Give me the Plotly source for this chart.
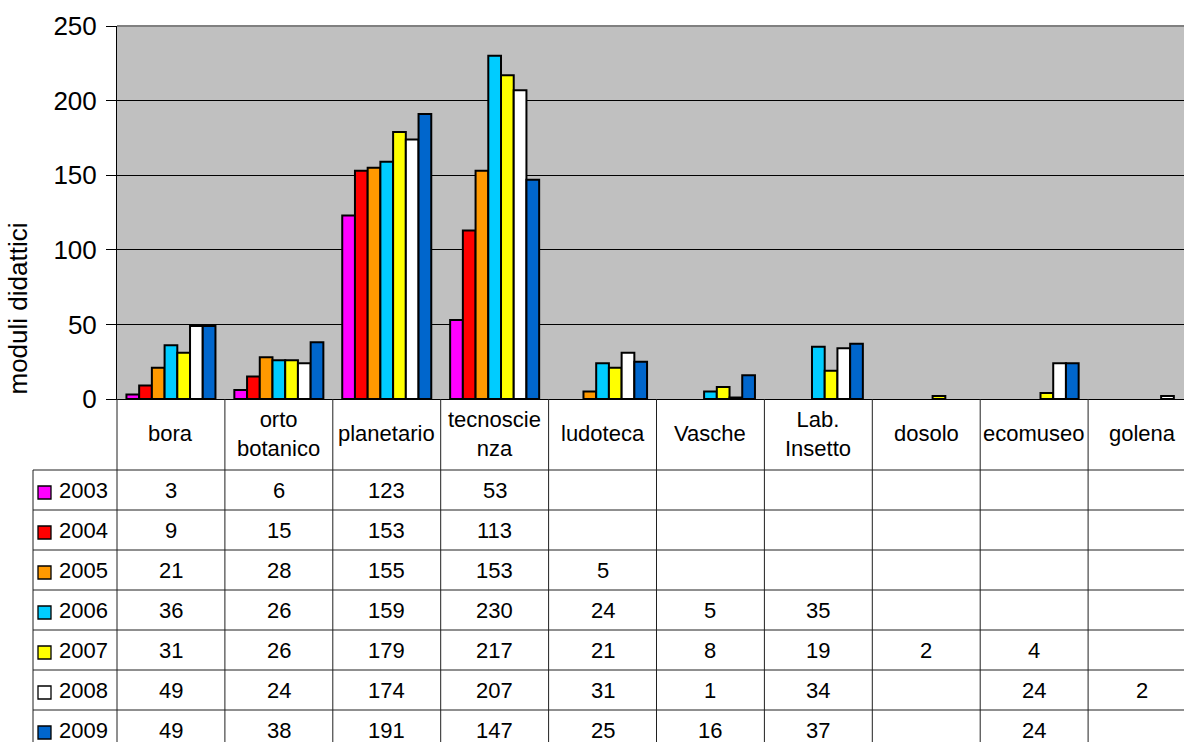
import plotly.graph_objects as go

# ---------------- data ----------------
categories = ["bora", "orto botanico", "planetario", "tecnoscienza", "ludoteca",
              "Vasche", "Lab. Insetto", "dosolo", "ecomuseo", "golena"]
header_labels = ["bora", "orto<br>botanico", "planetario", "tecnoscie<br>nza", "ludoteca",
                 "Vasche", "Lab.<br>Insetto", "dosolo", "ecomuseo", "golena"]
years = ["2003", "2004", "2005", "2006", "2007", "2008", "2009"]

v2003 = [3, 6, 123, 53, None, None, None, None, None, None]
v2004 = [9, 15, 153, 113, None, None, None, None, None, None]
v2005 = [21, 28, 155, 153, 5, None, None, None, None, None]
v2006 = [36, 26, 159, 230, 24, 5, 35, None, None, None]
v2007 = [31, 26, 179, 217, 21, 8, 19, 2, 4, None]
v2008 = [49, 24, 174, 207, 31, 1, 34, None, 24, 2]
v2009 = [49, 38, 191, 147, 25, 16, 37, None, 24, None]
series_values = [v2003, v2004, v2005, v2006, v2007, v2008, v2009]

colors = ["#FF00FF", "#FF0000", "#FF9900", "#00CCFF", "#FFFF00", "#FFFFFF", "#0066CC"]
yticks = [0, 50, 100, 150, 200, 250]
y_title = "moduli didattici"

# ---------------- layout geometry ----------------
# the chart is slightly wider than the 1184px window; the right edge is cut off as in the source
W, H = 1196, 742
ML, MR, MT, MB = 117, 0, 26, 343
PW = W - ML - MR
PH = H - MT - MB
FONT = "Liberation Sans, Arial, sans-serif"
TABLE_FS = 22
HEADER_BOTTOM = 470
ROW_H = 40
LEG_LEFT = 33


def px_x(px):
    return (px - ML) / PW


def px_y(py):
    return (H - MB - py) / PH


fig = go.Figure()
for yr, vals, col in zip(years, series_values, colors):
    fig.add_trace(go.Bar(
        x=categories, y=vals, name=yr,
        marker=dict(color=col, line=dict(color="black", width=2)),
        hoverinfo="x+y+name",
    ))

shapes = []
annotations = []

# plot-area top border
shapes.append(dict(type="line", xref="paper", yref="paper", x0=0, x1=1, y0=1, y1=1,
                   line=dict(color="#808080", width=2)))

ncat = len(categories)
plot_bottom_px = H - MB
# header + column vertical lines
for i in range(ncat + 1):
    shapes.append(dict(type="line", xref="paper", yref="paper",
                       x0=i / ncat, x1=i / ncat, y0=px_y(plot_bottom_px), y1=px_y(H + 5),
                       line=dict(color="#202020", width=1)))
# legend column left line
shapes.append(dict(type="line", xref="paper", yref="paper",
                   x0=px_x(LEG_LEFT), x1=px_x(LEG_LEFT), y0=px_y(HEADER_BOTTOM), y1=px_y(H + 5),
                   line=dict(color="#202020", width=1)))
# row lines
for k in range(len(years)):
    yy = px_y(HEADER_BOTTOM + k * ROW_H)
    shapes.append(dict(type="line", xref="paper", yref="paper",
                       x0=px_x(LEG_LEFT), x1=1, y0=yy, y1=yy,
                       line=dict(color="#202020", width=1)))

# header labels
for i, lab in enumerate(header_labels):
    annotations.append(dict(xref="paper", yref="paper", x=(i + 0.5) / ncat,
                            y=px_y((plot_bottom_px + HEADER_BOTTOM) / 2 - 1),
                            text=lab, showarrow=False, xanchor="center", yanchor="middle",
                            font=dict(family=FONT, size=TABLE_FS, color="black")))

# rows: legend keys, year labels, values
for k, (yr, vals, col) in enumerate(zip(years, series_values, colors)):
    cy = HEADER_BOTTOM + k * ROW_H + ROW_H / 2
    shapes.append(dict(type="rect", xref="paper", yref="paper",
                       x0=px_x(38), x1=px_x(51), y0=px_y(cy + 9), y1=px_y(cy - 4),
                       fillcolor=col, line=dict(color="black", width=1.3)))
    annotations.append(dict(xref="paper", yref="paper", x=px_x(57), y=px_y(cy),
                            text=yr, showarrow=False, xanchor="left", yanchor="middle",
                            font=dict(family=FONT, size=TABLE_FS, color="black")))
    for i, v in enumerate(vals):
        if v is None:
            continue
        annotations.append(dict(xref="paper", yref="paper", x=(i + 0.5) / ncat, y=px_y(cy),
                                text=str(v), showarrow=False, xanchor="center", yanchor="middle",
                                font=dict(family=FONT, size=TABLE_FS, color="black")))

# y-axis title
annotations.append(dict(xref="paper", yref="paper", x=px_x(17), y=px_y(308.5),
                        text=y_title, textangle=-90, showarrow=False,
                        xanchor="center", yanchor="middle",
                        font=dict(family=FONT, size=26, color="black")))

fig.update_layout(
    width=W, height=H,
    margin=dict(l=ML, r=MR, t=MT, b=MB, pad=0),
    paper_bgcolor="white", plot_bgcolor="#C0C0C0",
    barmode="group", bargap=0.175, bargroupgap=0,
    showlegend=False,
    font=dict(family=FONT, color="black"),
    xaxis=dict(type="category", range=[-0.5, ncat - 0.5], showticklabels=False,
               showline=True, linecolor="black", linewidth=1, ticks="",
               showgrid=False, zeroline=False, fixedrange=True),
    yaxis=dict(range=[0, 250], tickvals=yticks, ticktext=[str(t) for t in yticks],
               showgrid=True, gridcolor="black", gridwidth=1,
               ticks="outside", ticklen=10, tickcolor="black", tickwidth=1,
               showline=True, linecolor="black", linewidth=1, zeroline=False,
               tickfont=dict(family=FONT, size=26, color="black"),
               ticklabelstandoff=4, fixedrange=True),
    shapes=shapes, annotations=annotations,
)

fig.write_html(
    "out.html",
    config={"displayModeBar": False},
    post_script="document.body.style.margin='0';document.body.style.overflow='hidden';",
)
